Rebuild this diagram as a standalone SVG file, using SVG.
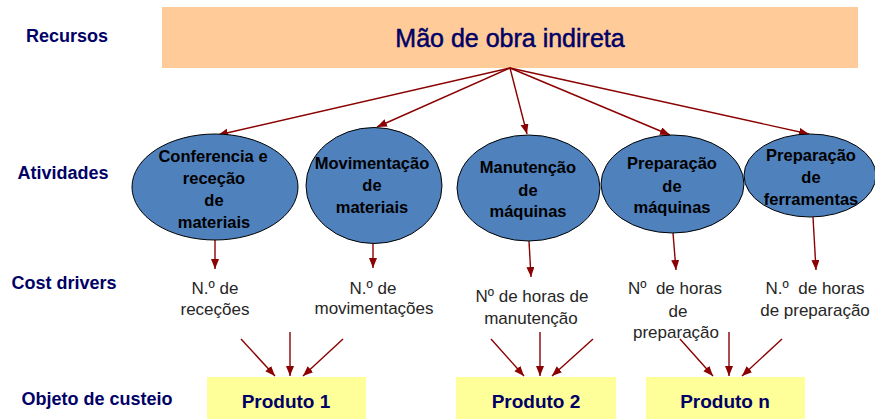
<svg xmlns="http://www.w3.org/2000/svg" width="875" height="419" viewBox="0 0 875 419">
<defs>
<style>
.lbl{font-family:"Liberation Sans",Arial,sans-serif;font-weight:bold;font-size:18px;fill:#000066;text-anchor:middle}
.act{fill:#4F81BD;stroke:#000;stroke-width:1}
.at{font-family:"Liberation Sans",Arial,sans-serif;font-weight:bold;font-size:16.5px;fill:#000;text-anchor:middle}
.cd{font-family:"Liberation Sans",Arial,sans-serif;font-size:17px;fill:#262626;text-anchor:middle;white-space:pre}
.prod{fill:#FFFF99}
.pt{font-family:"Liberation Sans",Arial,sans-serif;font-weight:bold;font-size:19px;fill:#000066;text-anchor:middle}
.con{stroke:#8B0000;stroke-width:1.4;fill:none;marker-end:url(#ah)}
</style>
<marker id="ah" markerUnits="userSpaceOnUse" markerWidth="11" markerHeight="9" refX="10" refY="4" orient="auto">
<path d="M0,0 L10,4 L0,8 z" fill="#8B0000"/>
</marker>
</defs>
<rect width="875" height="419" fill="#fff"/>
<g id="labels">
<text class="lbl" x="67" y="42">Recursos</text>
<text class="lbl" x="63" y="179">Atividades</text>
<text class="lbl" x="64" y="289">Cost drivers</text>
<text class="lbl" x="97" y="405">Objeto de custeio</text>
</g>
<g id="recurso">
<rect x="162" y="7" width="696" height="61" fill="#FFCC99"/>
<text x="510" y="47" font-family="Liberation Sans,Arial,sans-serif" font-size="25" fill="#000066" stroke="#000066" stroke-width="0.5" text-anchor="middle">Mão de obra indireta</text>
</g>
<g id="connectors">
<line class="con" x1="510" y1="68" x2="218" y2="135"/>
<line class="con" x1="510" y1="68" x2="377" y2="127"/>
<line class="con" x1="510" y1="68" x2="527" y2="134"/>
<line class="con" x1="510" y1="68" x2="670" y2="135"/>
<line class="con" x1="510" y1="68" x2="809" y2="134"/>
<line class="con" x1="215" y1="240" x2="215" y2="269"/>
<line class="con" x1="373" y1="244" x2="373" y2="268"/>
<line class="con" x1="529" y1="241" x2="531" y2="277"/>
<line class="con" x1="673" y1="233" x2="676" y2="270"/>
<line class="con" x1="813" y1="217" x2="816" y2="270"/>
<line class="con" x1="241" y1="339" x2="275" y2="376"/>
<line class="con" x1="290" y1="332" x2="290" y2="376"/>
<line class="con" x1="343" y1="339" x2="303" y2="376"/>
<line class="con" x1="491" y1="339" x2="524" y2="376"/>
<line class="con" x1="540" y1="332" x2="540" y2="376"/>
<line class="con" x1="593" y1="339" x2="552" y2="376"/>
<line class="con" x1="680" y1="339" x2="713" y2="376"/>
<line class="con" x1="729" y1="332" x2="729" y2="376"/>
<line class="con" x1="782" y1="339" x2="742" y2="376"/>
</g>
<g id="atividade1">
<ellipse class="act" cx="215" cy="187" rx="83" ry="53"/>
<text class="at" x="213" y="162">Conferencia e</text>
<text class="at" x="214" y="184">receção</text>
<text class="at" x="214" y="206">de</text>
<text class="at" x="214" y="228">materiais</text>
</g>
<g id="atividade2">
<ellipse class="act" cx="374" cy="185.5" rx="68" ry="58"/>
<text class="at" x="372" y="169">Movimentação</text>
<text class="at" x="372" y="191">de</text>
<text class="at" x="372" y="213">materiais</text>
</g>
<g id="atividade3">
<ellipse class="act" cx="528.5" cy="188" rx="71.5" ry="53"/>
<text class="at" x="528" y="173">Manutenção</text>
<text class="at" x="528" y="196">de</text>
<text class="at" x="528" y="217">máquinas</text>
</g>
<g id="atividade4">
<ellipse class="act" cx="672.5" cy="184" rx="71.5" ry="49"/>
<text class="at" x="672" y="169">Preparação</text>
<text class="at" x="672" y="192">de</text>
<text class="at" x="672" y="213">máquinas</text>
</g>
<g id="atividade5">
<ellipse class="act" cx="810" cy="175.5" rx="66" ry="41.5"/>
<text class="at" x="811" y="161">Preparação</text>
<text class="at" x="811" y="183">de</text>
<text class="at" x="811" y="205">ferramentas</text>
</g>
<g id="driver1">
<text class="cd" x="215" y="294">N.º de</text>
<text class="cd" x="215" y="315">receções</text>
</g>
<g id="driver2">
<text class="cd" x="373" y="294">N.º de</text>
<text class="cd" x="374" y="314">movimentações</text>
</g>
<g id="driver3">
<text class="cd" x="532" y="302">Nº de horas de</text>
<text class="cd" x="531" y="324">manutenção</text>
</g>
<g id="driver4">
<text class="cd" x="675" y="294">Nº  de horas</text>
<text class="cd" x="678" y="317">de</text>
<text class="cd" x="676" y="338">preparação</text>
</g>
<g id="driver5">
<text class="cd" x="815" y="294">N.º  de horas</text>
<text class="cd" x="815" y="316">de preparação</text>
</g>
<g id="produto1">
<rect class="prod" x="207" y="377" width="159" height="42"/>
<text class="pt" x="286" y="408">Produto 1</text>
</g>
<g id="produto2">
<rect class="prod" x="456" y="377" width="160" height="42"/>
<text class="pt" x="536" y="408">Produto 2</text>
</g>
<g id="produton">
<rect class="prod" x="646" y="377" width="159" height="42"/>
<text class="pt" x="725" y="408">Produto n</text>
</g>
</svg>
